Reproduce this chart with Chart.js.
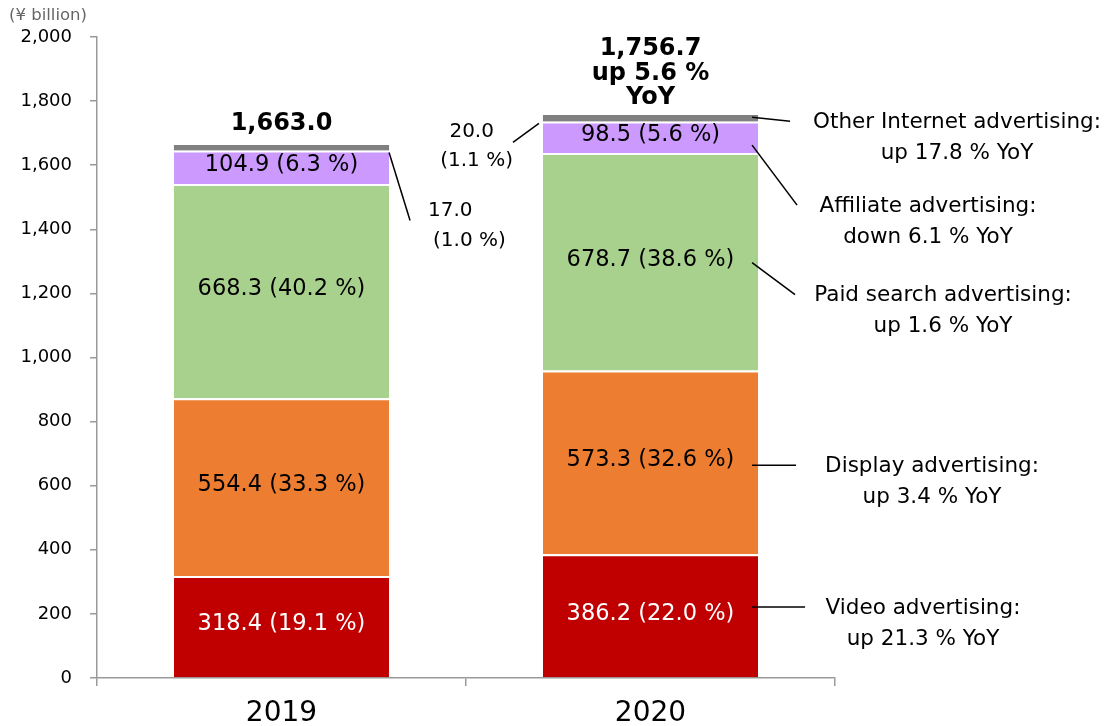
<!DOCTYPE html>
<html>
<head>
<meta charset="utf-8">
<script src="https://cdn.jsdelivr.net/npm/chart.js@4.4.1/dist/chart.umd.min.js"></script>
<style>
  html, body { margin: 0; padding: 0; background: #fff; }
  #wrap { width: 1115px; height: 726px; position: relative; }
</style>
</head>
<body>
<div id="wrap"><canvas id="grafico" width="1115" height="726"></canvas></div>
<script>
// dados (¥ billion)
const anos = ["2019", "2020"];
const video = [318.4, 386.2];
const display = [554.4, 573.3];
const paidSearch = [668.3, 678.7];
const affiliate = [104.9, 98.5];
const other = [17.0, 20.0];

// participação (%)
const videoShare = [19.1, 22.0];
const displayShare = [33.3, 32.6];
const paidShare = [40.2, 38.6];
const affiliateShare = [6.3, 5.6];
const otherShare = [1.0, 1.1];

const yTicks = [0, 200, 400, 600, 800, 1000, 1200, 1400, 1600, 1800, 2000];

const seriesNames = ["Video advertising:", "Display advertising:", "Paid search advertising:", "Affiliate advertising:", "Other Internet advertising:"];
const seriesYoY = ["up 21.3 % YoY", "up 3.4 % YoY", "up 1.6 % YoY", "down 6.1 % YoY", "up 17.8 % YoY"];
const totalYoY = "up 5.6 %";

const cores = ["#C00000", "#ED7D31", "#A9D18E", "#CC99FF", "#808080"];
const FONTE = "'DejaVu Sans', Verdana, sans-serif";

const fmt = (v) => v.toLocaleString("en-US", { minimumFractionDigits: 1, maximumFractionDigits: 1 });

// plugin de rótulos e anotações
const rotulos = {
  id: "rotulos",
  afterDatasetsDraw(chart) {
    const ctx = chart.ctx;
    const y = chart.scales.y;
    const shares = [videoShare, displayShare, paidShare, affiliateShare];
    ctx.save();
    ctx.textAlign = "center";
    ctx.textBaseline = "middle";

    // valores dentro das barras
    for (let d = 0; d < 4; d++) {
      const meta = chart.getDatasetMeta(d);
      meta.data.forEach((bar, i) => {
        const val = chart.data.datasets[d].data[i];
        ctx.fillStyle = d === 0 ? "#fff" : "#000";
        ctx.font = "22.5px " + FONTE;
        ctx.fillText(fmt(val) + " (" + shares[d][i].toFixed(1) + " %)", bar.x, (bar.y + bar.base) / 2 - 2);
      });
    }

    // totais
    ctx.fillStyle = "#000";
    ctx.font = "bold 24px " + FONTE;
    for (let i = 0; i < anos.length; i++) {
      const total = video[i] + display[i] + paidSearch[i] + affiliate[i] + other[i];
      const bar = chart.getDatasetMeta(0).data[i];
      const topo = y.getPixelForValue(total);
      const linhas = i === 0 ? [fmt(total)] : [fmt(total), totalYoY, "YoY"];
      const folga = i === 0 ? 21 : 17;
      linhas.forEach((t, k) => {
        ctx.fillText(t, bar.x, topo - folga - (linhas.length - 1 - k) * 24.5);
      });
    }

    ctx.strokeStyle = "#000";
    ctx.lineWidth = 1.5;
    const linha = (x1, y1, x2, y2) => {
      ctx.beginPath();
      ctx.moveTo(x1, y1);
      ctx.lineTo(x2, y2);
      ctx.stroke();
    };

    // "Other" das duas barras
    ctx.font = "20px " + FONTE;
    ctx.textAlign = "left";
    const b19 = chart.getDatasetMeta(4).data[0];
    const r19 = b19.x + b19.width / 2;
    const yo19 = y.getPixelForValue(video[0] + display[0] + paidSearch[0] + affiliate[0]);
    linha(r19, yo19 + 2, r19 + 21, yo19 + 70);
    ctx.fillText(fmt(other[0]), r19 + 39, yo19 + 60);
    ctx.fillText("(" + otherShare[0].toFixed(1) + " %)", r19 + 44, yo19 + 90);

    const b20 = chart.getDatasetMeta(4).data[1];
    const l20 = b20.x - b20.width / 2;
    const yo20 = y.getPixelForValue(video[1] + display[1] + paidSearch[1] + affiliate[1]);
    linha(l20 - 30, yo20 + 21, l20 - 4, yo20 + 2);
    ctx.textAlign = "right";
    ctx.fillText(fmt(other[1]), l20 - 49, yo20 + 10);
    ctx.fillText("(" + otherShare[1].toFixed(1) + " %)", l20 - 30, yo20 + 39);

    // anotações à direita (2020)
    const r20 = b20.x + b20.width / 2;
    const valores = [video[1], display[1], paidSearch[1], affiliate[1], other[1]];
    // [dyInicio, dxFim, dyFim, xTexto]
    const pos = [
      [-9, 47, -9, 923],
      [3, 38, 3, 932],
      [1, 37, 33, 943],
      [8, 39, 68, 928],
      [-1, 32, 3, 957]
    ];
    ctx.font = "21.5px " + FONTE;
    ctx.textAlign = "center";
    let base = 0;
    for (let s = 0; s < 5; s++) {
      const meio = y.getPixelForValue(base + valores[s] / 2);
      base += valores[s];
      const p = pos[s];
      linha(r20 - 6, meio + p[0], r20 + p[1], meio + p[2]);
      ctx.fillText(seriesNames[s], p[3], meio + p[2] + 1);
      ctx.fillText(seriesYoY[s], p[3], meio + p[2] + 32);
    }

    // unidade
    ctx.textAlign = "left";
    ctx.fillStyle = "#666";
    ctx.font = "16.5px " + FONTE;
    ctx.fillText("(¥ billion)", 9, 16);
    ctx.restore();
  }
};

const series = [video, display, paidSearch, affiliate, other];
const datasets = series.map((dados, i) => ({
  label: seriesNames[i],
  data: dados,
  backgroundColor: cores[i],
  borderColor: "#fff",
  borderWidth: i === 4 ? 0 : { top: 2 },
  borderSkipped: false,
  barPercentage: 0.583,
  categoryPercentage: 1.0
}));

const ctx = document.getElementById("grafico").getContext("2d");
const grafico = new Chart(ctx, {
  type: "bar",
  data: { labels: anos, datasets: datasets },
  options: {
    responsive: false,
    animation: false,
    layout: { padding: { left: 0, right: 280, top: 37, bottom: 0 } },
    plugins: {
      legend: { display: false },
      tooltip: { enabled: false }
    },
    scales: {
      x: {
        stacked: true,
        grid: { offset: true, drawOnChartArea: false, drawTicks: true, tickLength: 8, color: "#999", lineWidth: 1.5 },
        border: { color: "#999", width: 1.5 },
        ticks: { color: "#000", font: { family: FONTE, size: 28 }, padding: 11 },
        afterFit(s) { s.height = 48; }
      },
      y: {
        stacked: true,
        min: 0,
        max: 2000,
        afterBuildTicks(s) { s.ticks = yTicks.map((v) => ({ value: v })); },
        grid: { drawOnChartArea: false, drawTicks: true, tickLength: 7, color: "#999", lineWidth: 1.5 },
        border: { color: "#999", width: 1.5 },
        ticks: {
          color: "#000",
          font: { family: FONTE, size: 18 },
          padding: 18,
          callback: (v) => v.toLocaleString("en-US")
        },
        afterFit(s) { s.width = 97; }
      }
    }
  },
  plugins: [rotulos]
});
</script>
</body>
</html>
